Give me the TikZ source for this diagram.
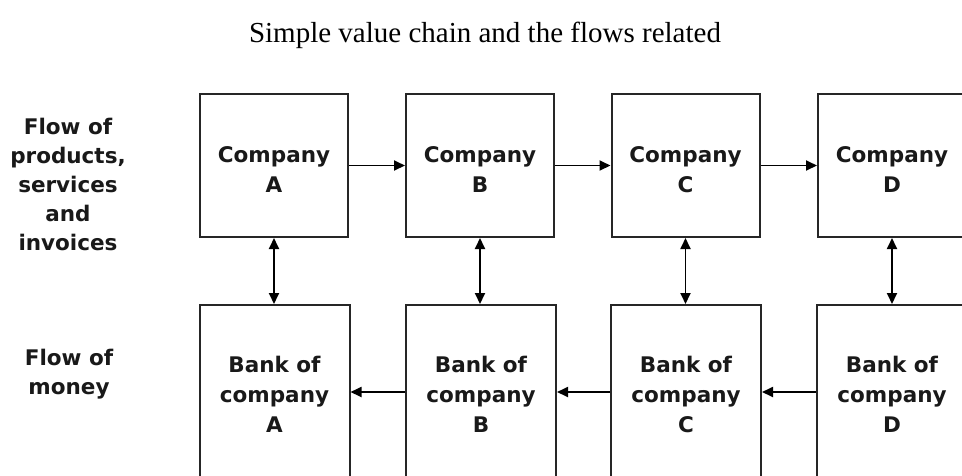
\documentclass[tikz,border=0pt]{standalone}
\usepackage{fontspec}
\setmainfont{Liberation Serif}
\newfontfamily\boxfont{DejaVu Sans}
\usetikzlibrary{arrows.meta}
\begin{document}
\begin{tikzpicture}[x=1pt,y=-1pt,
  boxst/.style={draw=black!85, line width=2pt, inner sep=0pt, minimum width=148pt},
  topbox/.style={boxst, minimum height=143pt},
  botbox/.style={boxst, minimum width=150pt, minimum height=174pt},
  txt/.style={font=\boxfont\bfseries\fontsize{21.5}{30}\selectfont, align=center, inner sep=0pt, text=black!90},
  sidetxt/.style={font=\boxfont\bfseries\fontsize{21.5}{29}\selectfont, align=center, inner sep=0pt, text=black!90},
  arr/.style={line width=1.8pt, -{Triangle[length=11pt,width=10pt]}},
  dblarr/.style={line width=1.8pt, {Triangle[length=11pt,width=10pt]}-{Triangle[length=11pt,width=10pt]}}]
\useasboundingbox (0,0) rectangle (962,475);
\clip (0,0) rectangle (962,475);
\fill[white] (0,0) rectangle (962,475);

\node[font=\fontsize{29}{34}\selectfont, anchor=base] (title) at (485,42) {Simple value chain and the flows related};

\node[sidetxt] (lab1) at (68,184) {Flow of\\products,\\services\\and\\invoices};
\node[sidetxt] (lab2) at (69,374) {Flow of\\money};

\node[topbox] (cA) at (274,165.5) {};
\node[topbox] (cB) at (480,165.5) {};
\node[topbox] (cC) at (685.5,165.5) {};
\node[topbox] (cD) at (892,165.5) {};

\node[txt] (tA) at (274,170) {Company\\A};
\node[txt] (tB) at (480,170) {Company\\B};
\node[txt] (tC) at (685.5,170) {Company\\C};
\node[txt] (tD) at (892,170) {Company\\D};

\node[botbox] (bA) at (274.5,392) {};
\node[botbox] (bB) at (481,392) {};
\node[botbox] (bC) at (686,392) {};
\node[botbox] (bD) at (892,392) {};

\node[txt] (uA) at (274.5,394) {Bank of\\company\\A};
\node[txt] (uB) at (481,394) {Bank of\\company\\B};
\node[txt] (uC) at (686,394) {Bank of\\company\\C};
\node[txt] (uD) at (892,394) {Bank of\\company\\D};

\draw[arr] (cA) -- (cB);
\draw[arr] (cB) -- (cC);
\draw[arr] (cC) -- (cD);

\draw[arr] (bB) -- (bA);
\draw[arr] (bC) -- (bB);
\draw[arr] (bD) -- (bC);

\draw[dblarr] (cA.south) -- (cA.south |- bA.north);
\draw[dblarr] (cB.south) -- (cB.south |- bB.north);
\draw[dblarr] (cC.south) -- (cC.south |- bC.north);
\draw[dblarr] (cD.south) -- (cD.south |- bD.north);
\end{tikzpicture}
\end{document}
